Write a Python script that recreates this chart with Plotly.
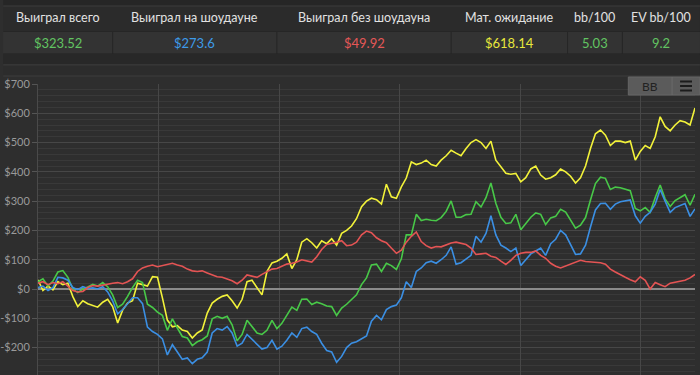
import plotly.graph_objects as go

# ---------------- data ----------------
header_titles = ["Выиграл всего", "Выиграл на шоудауне", "Выиграл без шоудауна",
                 "Мат. ожидание", "bb/100", "EV bb/100"]
header_values = ["$323.52", "$273.6", "$49.92", "$618.14", "5.03", "9.2"]
header_colors = ["#62c462", "#3d9be9", "#e55757", "#e8e83c", "#62c462", "#62c462"]
col_edges = [0, 110, 275, 450, 567, 622, 700]

y_tickvals = [-200, -100, 0, 100, 200, 300, 400, 500, 600, 700]
y_ticktext = ["-$200", "-$100", "$0", "$100", "$200", "$300", "$400", "$500", "$600", "$700"]

total_hands = 5450
n_points = 133
hands = [round(i * total_hands / (n_points - 1)) for i in range(n_points)]

won_total = [
    25, 35, 10, 27, 58, 63, 40, 0, -12, 0,
    7, 16, 10, 22, 8, -20, -63, -52, -25, 5,
    30, 22, -52, -63, -79, -90, -141, -102, -133, -162,
    -167, -193, -180, -173, -160, -102, -93, -100, -93, -122,
    -177, -155, -107, -127, -150, -155, -141, -107, -135, -117,
    -90, -62, -73, -35, -34, -53, -45, -50, -58, -60,
    -90, -65, -52, -35, -20, 15, 38, 82, 85, 60,
    88, 80, 67, 103, 185, 185, 255, 234, 238, 235,
    233, 244, 265, 301, 245, 245, 254, 255, 298, 280,
    312, 362, 293, 245, 224, 226, 255, 202, 225, 245,
    260, 255, 220, 243, 248, 272, 263, 234, 208, 218,
    244, 304, 360, 382, 378, 340, 348, 346, 340, 336,
    275, 267, 278, 262, 312, 355, 308, 282, 302, 311,
    322, 286, 323.52]

won_showdown = [
    5, 10, -5, 5, 40, 38, 30, 5, -2, 8,
    2, 4, 0, 8, -10, -40, -85, -70, -50, -30,
    -30, -50, -130, -145, -155, -170, -225, -190, -215, -240,
    -235, -255, -240, -235, -215, -150, -135, -140, -128, -150,
    -195, -185, -155, -172, -190, -205, -200, -175, -205, -195,
    -175, -150, -165, -135, -130, -145, -155, -185, -210, -215,
    -250, -230, -200, -185, -180, -170, -160, -110, -90, -105,
    -70, -60, -55, -30, 25, 5, 60, 72, 90, 95,
    88, 100, 115, 144, 85, 90, 102, 115, 180, 160,
    190, 250, 185, 150, 140, 128, 140, 80, 100, 120,
    130, 140, 115, 155, 170, 200, 185, 150, 118, 120,
    150, 212, 270, 292, 293, 272, 290, 298, 300, 304,
    250, 225, 248, 262, 290, 340, 300, 262, 278, 285,
    292, 248, 273.6]

won_non_showdown = [
    20, 25, 15, 22, 18, 25, 10, -5, -10, -8,
    5, 12, 10, 14, 18, 20, 22, 18, 25, 35,
    60, 72, 78, 82, 76, 80, 84, 88, 82, 78,
    68, 62, 60, 62, 55, 48, 42, 40, 35, 28,
    18, 30, 48, 45, 40, 50, 59, 68, 70, 78,
    85, 88, 92, 100, 96, 92, 110, 135, 152, 155,
    160, 165, 148, 150, 160, 185, 198, 192, 175, 165,
    158, 140, 122, 133, 160, 180, 195, 162, 148, 140,
    145, 144, 150, 157, 160, 155, 152, 140, 118, 120,
    122, 112, 108, 95, 84, 98, 115, 122, 125, 125,
    130, 115, 105, 88, 78, 72, 78, 84, 90, 98,
    94, 92, 90, 90, 85, 68, 58, 48, 40, 32,
    25, 42, 30, 0, 22, 15, 8, 20, 24, 26,
    30, 38, 49.92]

ev_allin = [
    31, -5, 10, -3, 25, 15, 20, -26, -60, -40,
    -50, -55, -62, -45, -35, -60, -116, -72, -48, -40,
    20, 15, 10, 42, 40, -30, -106, -129, -125, -140,
    -145, -167, -150, -140, -82, -48, -35, -25, -20, -40,
    -65, -35, 25, 30, 5, -20, 60, 89, 95, 105,
    120, 70, 100, 160, 172, 158, 140, 165, 155, 172,
    150, 190, 200, 215, 240, 281, 300, 310, 305, 290,
    358, 315, 310, 349, 379, 434, 425, 430, 440, 425,
    420, 440, 455, 474, 464, 455, 480, 500, 510, 500,
    480, 505, 440, 417, 395, 392, 395, 366, 380, 410,
    420, 389, 375, 380, 390, 410, 400, 385, 362, 380,
    420, 480, 530, 543, 525, 490, 505, 505, 500, 505,
    440, 470, 490, 480, 520, 588, 555, 540, 560, 575,
    570, 560, 618.14]

series = [
    ("Мат. ожидание", ev_allin, "#f2f23a"),
    ("Выиграл всего", won_total, "#48c848"),
    ("Выиграл на шоудауне", won_showdown, "#3b8fe3"),
    ("Выиграл без шоудауна", won_non_showdown, "#e45454"),
]

# ---------------- layout geometry ----------------
W, H = 700, 375
L, R, T, B = 35, 5, 84, 0
PW, PH = W - L - R, H - T - B


def px(x):
    return (x - L) / PW


def py(y):
    return (H - B - y) / PH


fig = go.Figure()
for name, vals, col in series:
    fig.add_trace(go.Scatter(x=hands, y=vals, mode="lines", name=name,
                             line=dict(color=col, width=1.6), hoverinfo="skip"))

shapes = []


def rect(x0, y0, x1, y1, fill, line=None, layer="below"):
    shapes.append(dict(type="rect", xref="paper", yref="paper",
                       x0=px(x0), x1=px(x1), y0=py(y1), y1=py(y0),
                       fillcolor=fill, line=dict(width=0 if line is None else 1,
                                                 color=line or fill), layer=layer))


def hline(y, x0, x1, color, w=1, layer="below"):
    shapes.append(dict(type="line", xref="paper", yref="paper",
                       x0=px(x0), x1=px(x1), y0=py(y), y1=py(y),
                       line=dict(color=color, width=w), layer=layer))


def vline(x, y0, y1, color, w=1, layer="below"):
    shapes.append(dict(type="line", xref="paper", yref="paper",
                       x0=px(x), x1=px(x), y0=py(y0), y1=py(y1),
                       line=dict(color=color, width=w), layer=layer))


# header background
rect(0, 0, 700, 6, "#262626")
rect(0, 6, 700, 31, "#2b2b2b")
hline(6, 0, 700, "#3d3d3d")
rect(0, 31, 700, 54, "#333333")
hline(31.5, 0, 700, "#262626")
hline(54, 0, 700, "#222222")
for e in col_edges[1:-1]:
    vline(e, 32, 54, "#252525")
rect(0, 54.5, 700, 65, "#282828")
hline(65, 0, 700, "#444444")
rect(0, 65.5, 700, 76, "#2c2c2c")
hline(76, 0, 700, "#3c3c3c")

# BB button
rect(628, 77, 700, 95, "#5b5b5b", line="#666666", layer="above")
vline(672, 77, 95, "#6a6a6a", layer="above")
for yy in (81.5, 86, 90.5):
    hline(yy, 680, 692, "#1c1c1c", w=2, layer="above")

annotations = []
for i, (t, v, c) in enumerate(zip(header_titles, header_values, header_colors)):
    cx = (col_edges[i] + col_edges[i + 1]) / 2
    annotations.append(dict(x=px(cx), y=py(18), xref="paper", yref="paper",
                            text=t, showarrow=False, xanchor="center", yanchor="middle",
                            font=dict(family="Lato", size=12.5, color="#e2e2e2")))
    annotations.append(dict(x=px(cx), y=py(43), xref="paper", yref="paper",
                            text=v, showarrow=False, xanchor="center", yanchor="middle",
                            font=dict(family="Lato", size=13, color=c)))
annotations.append(dict(x=px(650), y=py(86), xref="paper", yref="paper", text="BB",
                        showarrow=False, xanchor="center", yanchor="middle",
                        font=dict(family="Lato", size=12, color="#222222")))

fig.update_layout(
    width=W, height=H,
    margin=dict(l=L, r=R, t=T, b=B, pad=0),
    paper_bgcolor="#2e2e2e", plot_bgcolor="#2e2e2e",
    showlegend=False, hovermode=False,
    shapes=shapes, annotations=annotations,
    xaxis=dict(range=[0, total_hands], dtick=1000, tick0=0, showgrid=True,
               gridcolor="#474747", gridwidth=1, showticklabels=False, ticks="",
               zeroline=False, showline=False, fixedrange=True),
    yaxis=dict(range=[-293.5, 700], tickvals=y_tickvals, ticktext=y_ticktext,
               showgrid=True, gridcolor="#474747", gridwidth=1,
               minor=dict(dtick=20, tick0=0, showgrid=True, gridcolor="#393939", gridwidth=1),
               ticks="outside", ticklen=5, tickcolor="#555555",
               showline=True, linecolor="#4a4a4a", linewidth=1,
               zeroline=True, zerolinecolor="#8a8a8a", zerolinewidth=2,
               tickfont=dict(family="Lato", size=11, color="#9a9a9a"),
               fixedrange=True),
)

fig.write_html("out.html", config={"displayModeBar": False})
